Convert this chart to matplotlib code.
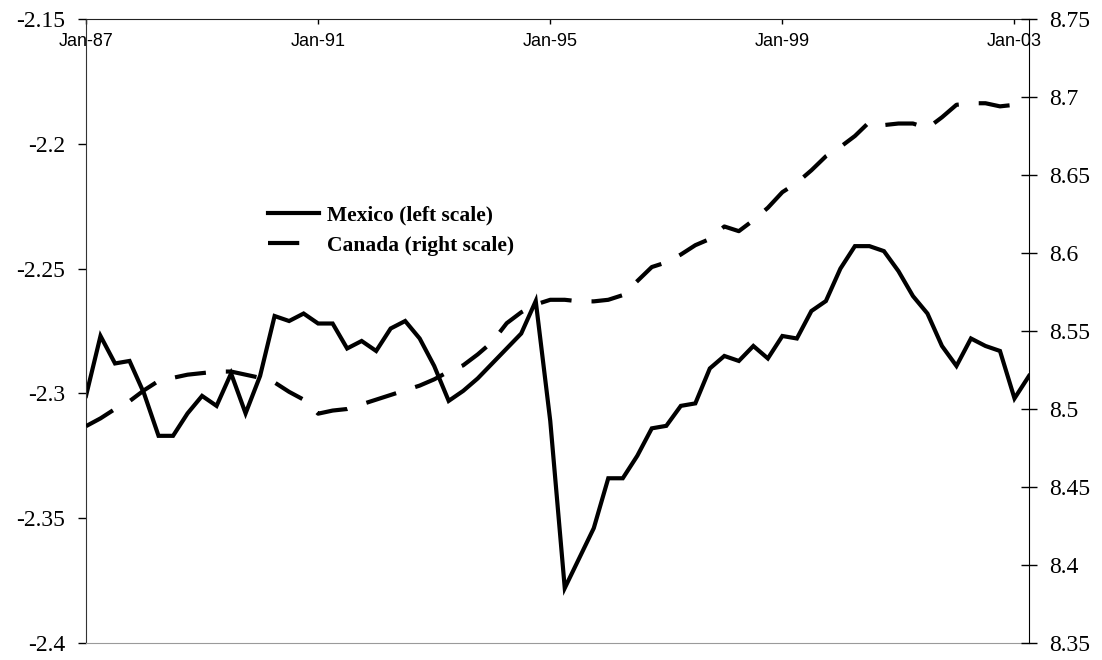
import numpy as np
import matplotlib.pyplot as plt
from matplotlib.ticker import FuncFormatter

# ================= DATA (quarterly, 1987Q1 .. 2003Q2) =================

mexico = [
    -2.301, -2.277, -2.288, -2.287, -2.300, -2.317, -2.317, -2.308,
    -2.301, -2.305, -2.292, -2.308, -2.293, -2.269, -2.271, -2.268,
    -2.272, -2.272, -2.282, -2.279, -2.283, -2.274, -2.271, -2.278,
    -2.289, -2.303, -2.299, -2.294, -2.288, -2.282, -2.276, -2.263,
    -2.311, -2.378, -2.366, -2.354, -2.334, -2.334, -2.325, -2.314,
    -2.313, -2.305, -2.304, -2.290, -2.285, -2.287, -2.281, -2.286,
    -2.277, -2.278, -2.267, -2.263, -2.250, -2.241, -2.241, -2.243,
    -2.251, -2.261, -2.268, -2.281, -2.289, -2.278, -2.281, -2.283,
    -2.302, -2.293,
]

canada = [
    8.489, 8.494, 8.500, 8.505, 8.512, 8.518, 8.520, 8.522,
    8.523, 8.524, 8.524, 8.522, 8.520, 8.517, 8.511, 8.506,
    8.497, 8.499, 8.500, 8.503, 8.506, 8.509, 8.512, 8.515,
    8.519, 8.524, 8.528, 8.535, 8.543, 8.555, 8.562, 8.567,
    8.570, 8.570, 8.569, 8.569, 8.570, 8.573, 8.582, 8.591,
    8.594, 8.599, 8.605, 8.609, 8.617, 8.614, 8.621, 8.629,
    8.639, 8.645, 8.653, 8.662, 8.668, 8.675, 8.684, 8.682,
    8.683, 8.683, 8.680, 8.687, 8.695, 8.696, 8.696, 8.694,
    8.695, 8.696,
]

tick_pos = [0, 16, 32, 48, 64]
tick_labels = ["Jan-87", "Jan-91", "Jan-95", "Jan-99", "Jan-03"]

left_ticks = [-2.4, -2.35, -2.3, -2.25, -2.2, -2.15]
right_ticks = [8.35, 8.4, 8.45, 8.5, 8.55, 8.6, 8.65, 8.7, 8.75]

x = np.arange(len(mexico))

# ================= FIGURE =================

W, H = 1102, 660
fig = plt.figure(figsize=(W / 100, H / 100), dpi=100)
ax = fig.add_axes([86 / W, 1 - 643 / H, (1029 - 86) / W, (643 - 19) / H])
ax2 = ax.twinx()

fmt = FuncFormatter(lambda v, p: "%g" % v)
serif = "Liberation Serif"

# Mexico (left)
l1, = ax.plot(x, mexico, color="black", lw=3, solid_joinstyle="miter",
              label="Mexico (left scale)")
ax.set_xlim(0, len(mexico) - 1)
ax.set_ylim(-2.4, -2.15)
ax.set_yticks(left_ticks)
ax.yaxis.set_major_formatter(fmt)
ax.tick_params(axis="y", direction="out", length=6, width=1, pad=9,
               labelsize=17)
for t in ax.get_yticklabels():
    t.set_family(serif)

# x axis on top, labels inside
ax.xaxis.tick_top()
ax.set_xticks(tick_pos)
ax.set_xticklabels(tick_labels, family="Liberation Sans", fontsize=13)
ax.tick_params(axis="x", direction="in", length=3.5, width=1, pad=-22)

ax.spines["top"].set_color("#222222")
ax.spines["left"].set_color("#333333")
ax.spines["bottom"].set_color("#9a9a9a")
ax.spines["right"].set_visible(False)

# Canada (right)
l2, = ax2.plot(x, canada, color="black", lw=3, dashes=(7.5, 4.8),
               label="Canada (right scale)")
ax2.set_ylim(8.35, 8.75)
ax2.set_yticks(right_ticks)
ax2.yaxis.set_major_formatter(fmt)
ax2.tick_params(axis="y", direction="inout", length=11, width=1, pad=9,
                labelsize=17)
for t in ax2.get_yticklabels():
    t.set_family(serif)
for s in ["top", "left", "bottom"]:
    ax2.spines[s].set_visible(False)
ax2.spines["right"].set_color("black")

# ================= LEGEND =================

ax2.legend(handles=[l1, l2], loc="upper left",
           bbox_to_anchor=(268 / W, 1 - 205 / H), bbox_transform=fig.transFigure,
           frameon=False, borderpad=0, borderaxespad=0, handlelength=2.35,
           handletextpad=0.4, labelspacing=0.5,
           prop={"family": serif, "weight": "bold", "size": 15.5})

fig.savefig("out.png", dpi=100)
